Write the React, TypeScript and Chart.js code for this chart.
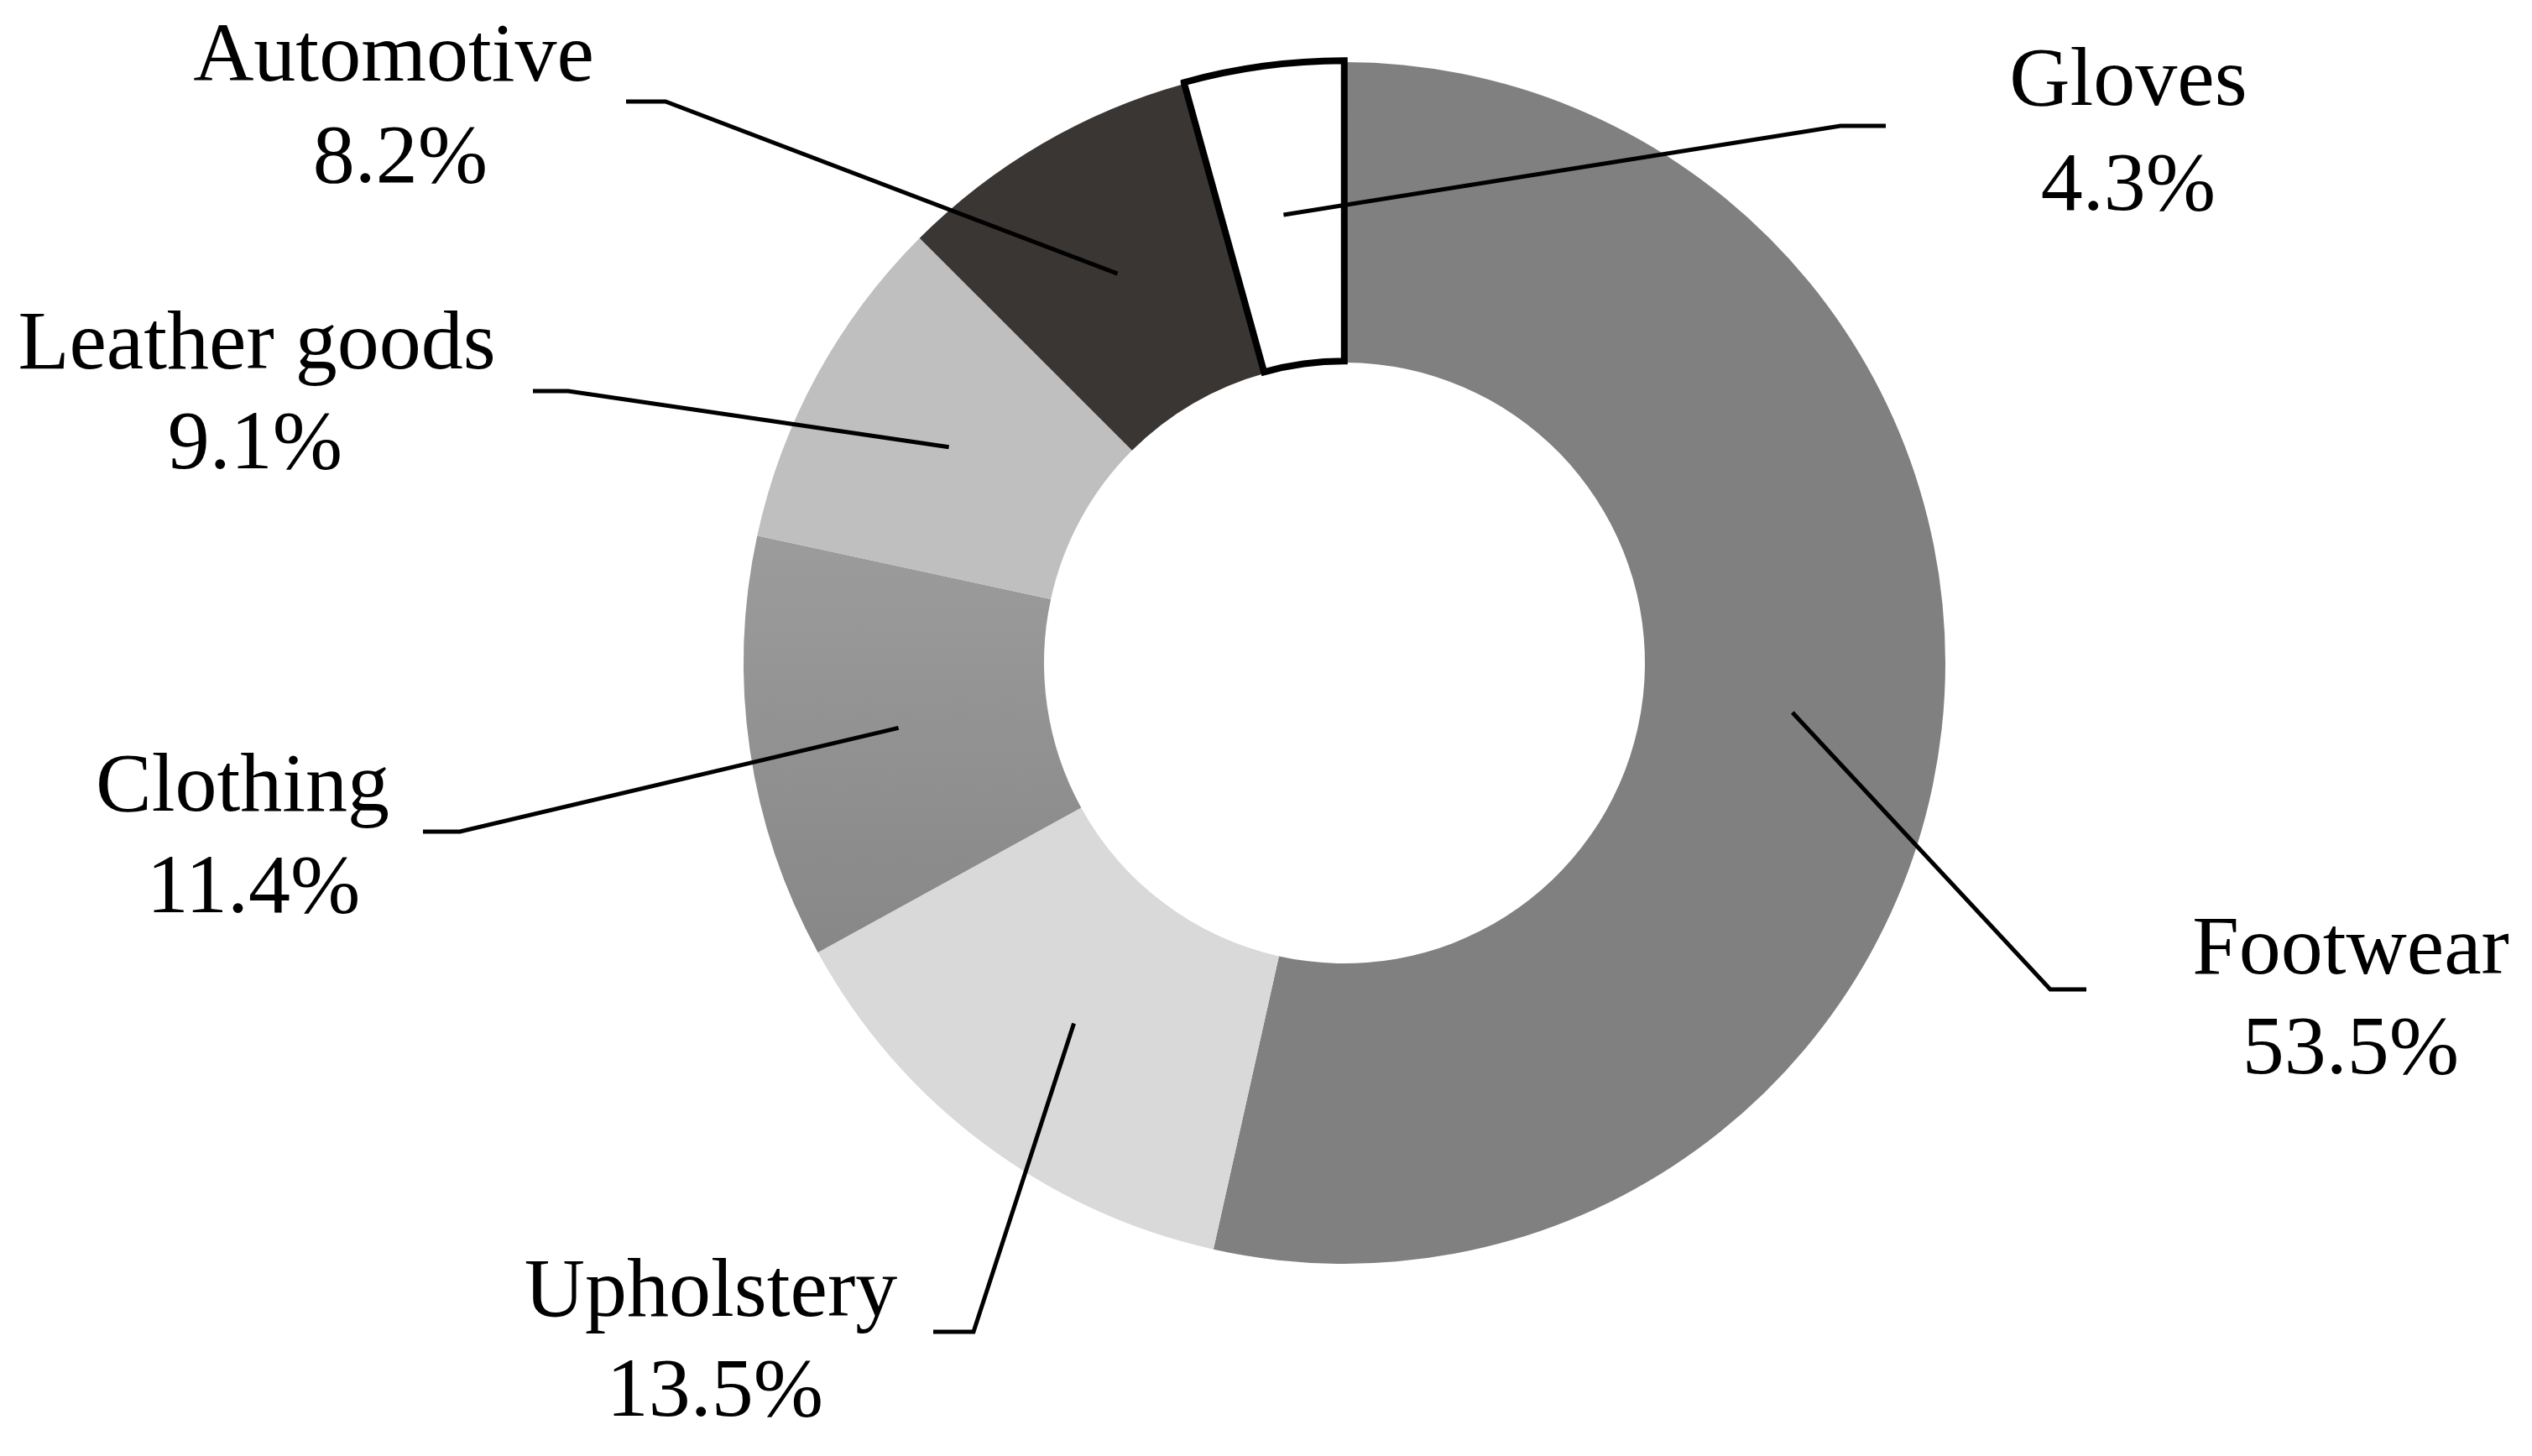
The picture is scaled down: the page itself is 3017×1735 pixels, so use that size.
import React, { useEffect, useRef } from "react";
import { Chart, registerables } from "chart.js";

Chart.register(...registerables);

// ---------- data ----------
const categories = ["Footwear", "Upholstery", "Clothing", "Leather goods", "Automotive", "Gloves"];
const shares = [53.5, 13.5, 11.4, 9.1, 8.2, 4.3];
const percentLabels = ["53.5%", "13.5%", "11.4%", "9.1%", "8.2%", "4.3%"];

// ---------- styles ----------
const sliceColors = ["#808080", "#d9d9d9", "#959595", "#bfbfbf", "#3a3634", "#ffffff"];
const gradientTop = "#9c9c9c";
const gradientBottom = "#878787";
const sliceBorderWidths = [0, 0, 0, 0, 0, 8];
const sliceOffsets = [0, 0, 0, 0, 0, 4];
const FONT = '100px "Liberation Serif", "DejaVu Serif", serif';

// label layout (page pixels): name centre/baseline, percent centre/baseline, leader horizontal end, elbow
const labelLayout = [
  { nx: 2801, ny: 1160, px: 2801, py: 1279, hx: 2486, ex: 2443, ly: 1179 },
  { nx: 847, ny: 1568, px: 852, py: 1687, hx: 1112, ex: 1160, ly: 1587 },
  { nx: 289, ny: 966, px: 302, py: 1087, hx: 504, ex: 548, ly: 991 },
  { nx: 306, ny: 439, px: 304, py: 558, hx: 635, ex: 677, ly: 466 },
  { nx: 469, ny: 96, px: 477, py: 217, hx: 746, ex: 793, ly: 121 },
  { nx: 2536, ny: 125, px: 2536, py: 250, hx: 2247, ex: 2193, ly: 150 },
];

const W = 3017;
const H = 1735;
const RADIUS = 716;

const leaderPlugin = {
  id: "leaderLabels",
  afterDraw(chart: any) {
    const ctx = chart.ctx;
    const meta = chart.getDatasetMeta(0);
    ctx.save();
    ctx.strokeStyle = "#000";
    ctx.lineWidth = 5;
    ctx.lineJoin = "miter";
    ctx.lineCap = "butt";
    meta.data.forEach((arc: any, i: number) => {
      const p = arc.getCenterPoint();
      const L = labelLayout[i];
      ctx.beginPath();
      ctx.moveTo(L.hx, L.ly);
      ctx.lineTo(L.ex, L.ly);
      ctx.lineTo(p.x, p.y);
      ctx.stroke();
    });
    ctx.fillStyle = "#000";
    ctx.font = FONT;
    ctx.textAlign = "center";
    ctx.textBaseline = "alphabetic";
    categories.forEach((name, i) => {
      const L = labelLayout[i];
      ctx.fillText(name, L.nx, L.ny);
      ctx.fillText(percentLabels[i], L.px, L.py);
    });
    ctx.restore();
  },
};

export default function App() {
  const ref = useRef<HTMLCanvasElement | null>(null);
  useEffect(() => {
    if (!ref.current) return;
    const chart = new Chart(ref.current, {
      type: "doughnut",
      data: {
        labels: categories,
        datasets: [
          {
            data: shares,
            backgroundColor: (c: any) => {
              const i = c.dataIndex;
              if (i === 2 && c.chart.chartArea) {
                const a = c.chart.chartArea;
                const cy = (a.top + a.bottom) / 2;
                const g = c.chart.ctx.createLinearGradient(0, cy - 0.22 * RADIUS, 0, cy + 0.49 * RADIUS);
                g.addColorStop(0, gradientTop);
                g.addColorStop(1, gradientBottom);
                return g;
              }
              return sliceColors[i];
            },
            borderColor: "#000",
            borderWidth: sliceBorderWidths,
            borderJoinStyle: "miter",
            offset: sliceOffsets,
          } as any,
        ],
      },
      options: {
        animation: false,
        responsive: false,
        devicePixelRatio: 1,
        cutout: "50%",
        radius: RADIUS,
        layout: { padding: { left: 886, right: W - 886 - 2 * RADIUS, top: 74, bottom: H - 74 - 2 * RADIUS } },
        plugins: { legend: { display: false }, tooltip: { enabled: false } },
      } as any,
      plugins: [leaderPlugin],
    });
    return () => chart.destroy();
  }, []);
  return (
    <div style={{ position: "fixed", left: 0, top: 0, width: W, height: H, background: "#fff" }}>
      <canvas ref={ref} width={W} height={H} style={{ display: "block", width: W, height: H }} />
    </div>
  );
}
